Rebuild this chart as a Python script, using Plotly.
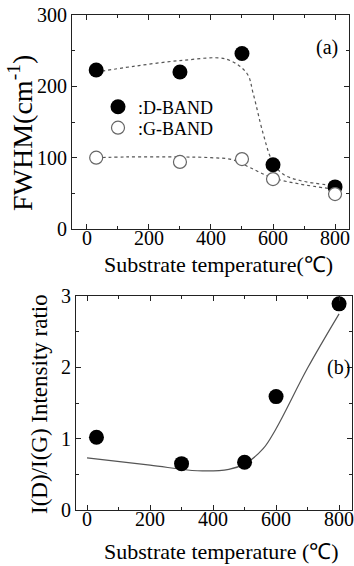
import plotly.graph_objects as go

# ---- data ----
temp = [30, 300, 500, 600, 800]
fwhm_d = [223, 220, 246, 90, 59]
fwhm_g = [100, 94, 98, 70, 49]

fit_d_x = [30, 150, 300, 450, 516, 536, 568, 597, 632, 687, 794]
fit_d_y = [220, 228, 236, 238, 218, 190, 134, 96, 77, 68, 61]
fit_g_x = [30, 130, 300, 400, 471, 526, 597, 687, 794]
fit_g_y = [100, 101, 101, 100, 97, 86, 72, 63, 56]

ratio = [1.02, 0.65, 0.67, 1.59, 2.89]
fit_r_x = [0, 200, 350, 450, 502, 559, 600, 700, 800]
fit_r_y = [0.73, 0.63, 0.55, 0.57, 0.65, 0.86, 1.14, 1.99, 2.75]

x_ticks = [0, 200, 400, 600, 800]
y1_ticks = [0, 100, 200, 300]
y2_ticks = [0, 1, 2, 3]

FONT = "Liberation Serif"
W, H = 354, 566
ML, MR, MT, MB = 72, 2, 15, 56
PW = W - ML - MR
PH = H - MT - MB


def px_x(p):
    return (p - ML) / PW


def px_y(p):
    return (H - MB - p) / PH


fig = go.Figure()

fig.add_trace(go.Scatter(x=fit_d_x, y=fit_d_y, mode="lines", line=dict(shape="spline", color="#555", width=1.2, dash="dot"),
                         showlegend=False, xaxis="x", yaxis="y"))
fig.add_trace(go.Scatter(x=fit_g_x, y=fit_g_y, mode="lines", line=dict(shape="spline", color="#555", width=1.2, dash="dot"),
                         showlegend=False, xaxis="x", yaxis="y"))
fig.add_trace(go.Scatter(x=temp, y=fwhm_d, mode="markers", name=":D-BAND", legend="legend",
                         marker=dict(symbol="circle", size=15, color="black"), xaxis="x", yaxis="y"))
fig.add_trace(go.Scatter(x=temp, y=fwhm_g, mode="markers", name=":G-BAND", legend="legend2",
                         marker=dict(symbol="circle", size=13, color="white", line=dict(color="#666", width=1.2)),
                         xaxis="x", yaxis="y"))

fig.add_trace(go.Scatter(x=fit_r_x, y=fit_r_y, mode="lines", line=dict(shape="spline", color="#555", width=1.2),
                         showlegend=False, xaxis="x2", yaxis="y2"))
fig.add_trace(go.Scatter(x=temp, y=ratio, mode="markers", showlegend=False,
                         marker=dict(symbol="circle", size=15, color="black"), xaxis="x2", yaxis="y2"))

tickfont = dict(family=FONT, size=20, color="black")
common = dict(showline=True, mirror="ticks", linecolor="#222", linewidth=1, ticks="inside", ticklen=5,
              tickcolor="#222", showgrid=False, zeroline=False, tickfont=tickfont, automargin=False,
              ticklabeloverflow="allow")

top_dom = [px_y(229), px_y(15)]
bot_dom = [px_y(510), px_y(296)]

legend_common = dict(xanchor="left", yanchor="middle", bgcolor="rgba(0,0,0,0)",
                     font=dict(family=FONT, size=18, color="black"), itemwidth=30)

fig.update_layout(
    width=W, height=H, margin=dict(l=ML, r=MR, t=MT, b=MB, autoexpand=False),
    paper_bgcolor="white", plot_bgcolor="white",
    xaxis=dict(domain=[0, px_x(349)], range=[-48, 845], tickvals=x_ticks, anchor="y", ticklabelstandoff=-9,
               minor=dict(ticks="inside", ticklen=3, dtick=100, tickcolor="#222"), **common),
    yaxis=dict(domain=top_dom, range=[0, 300], tickvals=y1_ticks, anchor="x",
               minor=dict(ticks="inside", ticklen=3, dtick=50, tickcolor="#222"), **common),
    xaxis2=dict(domain=[px_x(76), 1], range=[-35, 841], tickvals=x_ticks, anchor="y2", ticklabelstandoff=-9,
                minor=dict(ticks="inside", ticklen=3, dtick=100, tickcolor="#222"), **common),
    yaxis2=dict(domain=bot_dom, range=[0, 3], tickvals=y2_ticks, anchor="x2",
                minor=dict(ticks="inside", ticklen=3, dtick=0.5, tickcolor="#222"), **common),
    legend=dict(x=px_x(98), y=px_y(107), **legend_common),
    legend2=dict(x=px_x(98), y=px_y(128), **legend_common),
    showlegend=True,
)

xt_font = dict(family=FONT, size=22, color="black")
fig.add_annotation(text="Substrate temperature(℃)", xref="paper", yref="paper", x=px_x(218), y=px_y(264),
                   showarrow=False, font=xt_font, xanchor="center", yanchor="middle")
fig.add_annotation(text="Substrate temperature (℃)", xref="paper", yref="paper", x=px_x(221), y=px_y(551),
                   showarrow=False, font=xt_font, xanchor="center", yanchor="middle")
fig.add_annotation(text="FWHM(cm<sup>-1</sup>)", xref="paper", yref="paper", x=px_x(20), y=px_y(133),
                   showarrow=False, font=dict(family=FONT, size=28, color="black"), textangle=-90,
                   xanchor="center", yanchor="middle")
fig.add_annotation(text="I(D)/I(G) Intensity ratio", xref="paper", yref="paper", x=px_x(39), y=px_y(404),
                   showarrow=False, font=dict(family=FONT, size=23, color="black"), textangle=-90,
                   xanchor="center", yanchor="middle")
fig.add_annotation(text="(a)", xref="paper", yref="paper", x=px_x(327), y=px_y(48),
                   showarrow=False, font=dict(family=FONT, size=20, color="black"), xanchor="center", yanchor="middle")
fig.add_annotation(text="(b)", xref="paper", yref="paper", x=px_x(338), y=px_y(367),
                   showarrow=False, font=dict(family=FONT, size=20, color="black"), xanchor="center", yanchor="middle")

fig.write_html("out.html", config={"displayModeBar": False}, post_script="document.body.style.margin='0';")
